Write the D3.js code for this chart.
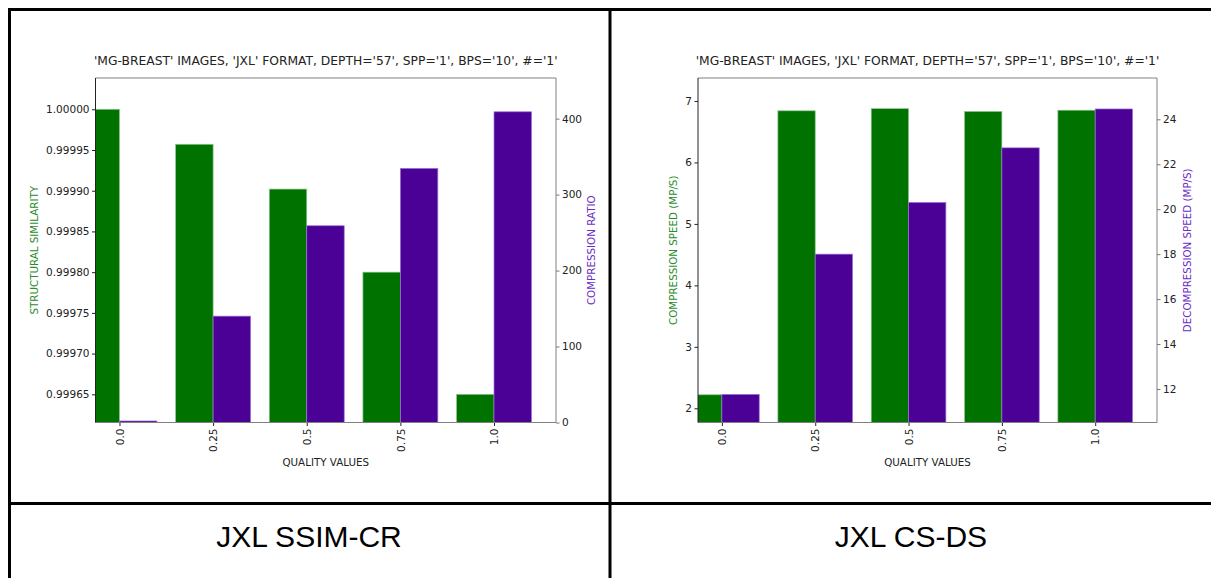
<!DOCTYPE html>
<html>
<head>
<meta charset="utf-8">
<script src="https://cdn.jsdelivr.net/npm/d3@7"></script>
<style>
  body { margin: 0; background: #fff; }
  svg { display: block; }
  .tick text { font-family: "DejaVu Sans", sans-serif; font-size: 10.5px; fill: #222; }
</style>
</head>
<body>
<div id="vis"></div>
<script>
// Data
const qualities = ['0.0', '0.25', '0.5', '0.75', '1.0'];
const ssim = [1.0, 0.999957, 0.999902, 0.999800, 0.999650];
const compressionRatio = [2, 140, 259, 334.5, 409];
const compressionSpeed = [2.22, 6.84, 6.875, 6.83, 6.85];
const decompressionSpeed = [11.76, 18.0, 20.3, 22.73, 24.46];

const ssimTicks = [0.99965, 0.9997, 0.99975, 0.9998, 0.99985, 0.9999, 0.99995, 1.0];
const ratioTicks = [0, 100, 200, 300, 400];
const csTicks = [2, 3, 4, 5, 6, 7];
const dsTicks = [12, 14, 16, 18, 20, 22, 24];

const chartTitle = "'MG-BREAST' IMAGES, 'JXL' FORMAT, DEPTH='57', SPP='1', BPS='10', #='1'";
const captions = ['JXL SSIM-CR', 'JXL CS-DS'];

const W = 1211, H = 578;
const GREEN = '#007200';
const PURPLE = '#4b0096';

const svg = d3.select('#vis')
    .append('svg')
    .attr('width', W)
    .attr('height', H);

// table borders
function tableLines() {
    const g = svg.append('g').attr('stroke', '#000').attr('stroke-width', 3);
    g.append('line').attr('x1', 8).attr('x2', W).attr('y1', 9.5).attr('y2', 9.5);
    g.append('line').attr('x1', 9.5).attr('x2', 9.5).attr('y1', 8).attr('y2', H);
    g.append('line').attr('x1', 610).attr('x2', 610).attr('y1', 8).attr('y2', H);
    g.append('line').attr('x1', 8).attr('x2', W).attr('y1', 503.5).attr('y2', 503.5);

    svg.selectAll('.caption')
        .data(captions)
        .join('text')
        .attr('class', 'caption')
        .attr('x', (d, i) => i === 0 ? 309 : 911)
        .attr('y', 547)
        .attr('text-anchor', 'middle')
        .style('font-family', '"Liberation Sans", Arial, sans-serif')
        .style('font-size', '30px')
        .style('fill', '#000')
        .text(d => d);
}

function drawChart(cfg) {
    const left = cfg.left, right = cfg.right, top = 78, bottom = 422.5;
    const id = cfg.id;
    const g = svg.append('g');

    const x = d3.scaleLinear().domain([-0.256, 4.662]).range([left, right]);
    const yL = d3.scaleLinear().domain(cfg.leftDomain).range([bottom, top]);
    const yR = d3.scaleLinear().domain(cfg.rightDomain).range([bottom, top]);

    g.append('clipPath').attr('id', id)
        .append('rect')
        .attr('x', left).attr('y', top)
        .attr('width', right - left).attr('height', bottom - top);

    const bars = g.append('g').attr('clip-path', `url(#${id})`);

    bars.selectAll('.barL')
        .data(cfg.leftValues)
        .join('rect')
        .attr('class', 'barL')
        .attr('x', (d, i) => x(i - 0.4))
        .attr('width', (d, i) => x(i) - x(i - 0.4))
        .attr('y', d => yL(d))
        .attr('height', d => bottom - yL(d))
        .attr('fill', GREEN)
        .attr('stroke', '#8fc48f')
        .attr('stroke-width', 0.7);

    bars.selectAll('.barR')
        .data(cfg.rightValues)
        .join('rect')
        .attr('class', 'barR')
        .attr('x', (d, i) => x(i))
        .attr('width', (d, i) => x(i + 0.4) - x(i))
        .attr('y', d => yR(d))
        .attr('height', d => bottom - yR(d))
        .attr('fill', PURPLE)
        .attr('stroke', '#9a72d2')
        .attr('stroke-width', 0.7);

    // axes
    const axL = g.append('g')
        .attr('transform', `translate(${left},0)`)
        .call(d3.axisLeft(yL).tickValues(cfg.leftTicks).tickFormat(cfg.leftFormat).tickSize(3.5).tickPadding(2.5));
    axL.select('.domain').remove();
    axL.selectAll('.tick line').attr('stroke', '#222');

    const axR = g.append('g')
        .attr('transform', `translate(${right},0)`)
        .call(d3.axisRight(yR).tickValues(cfg.rightTicks).tickFormat(cfg.rightFormat).tickSize(3.5).tickPadding(2.5));
    axR.select('.domain').remove();
    axR.selectAll('.tick line').attr('stroke', '#777');

    const axB = g.append('g')
        .attr('transform', `translate(0,${bottom})`)
        .call(d3.axisBottom(x).tickValues(d3.range(qualities.length)).tickFormat(i => qualities[i]).tickSize(3.5));
    axB.select('.domain').remove();
    axB.selectAll('.tick line').attr('stroke', '#222');
    axB.selectAll('.tick text')
        .attr('transform', 'rotate(-90)')
        .attr('text-anchor', 'end')
        .attr('x', -6)
        .attr('y', 0)
        .attr('dy', '0.35em');

    // spines
    g.append('line').attr('x1', left).attr('x2', right).attr('y1', top).attr('y2', top)
        .attr('stroke', '#808080').attr('stroke-width', 1);
    g.append('line').attr('x1', right).attr('x2', right).attr('y1', top).attr('y2', bottom)
        .attr('stroke', '#808080').attr('stroke-width', 1);
    g.append('line').attr('x1', left).attr('x2', right).attr('y1', bottom).attr('y2', bottom)
        .attr('stroke', '#808080').attr('stroke-width', 1);
    g.append('line').attr('x1', left).attr('x2', left).attr('y1', top).attr('y2', bottom)
        .attr('stroke', '#222').attr('stroke-width', 1);

    const labelFont = '"DejaVu Sans", sans-serif';
    const midY = (top + bottom) / 2;

    // title
    g.append('text')
        .attr('x', (left + right) / 2)
        .attr('y', 65)
        .attr('text-anchor', 'middle')
        .style('font-family', labelFont)
        .style('font-size', '12.3px')
        .style('fill', '#222')
        .text(chartTitle);

    g.append('text')
        .attr('x', (left + right) / 2)
        .attr('y', 465.5)
        .attr('text-anchor', 'middle')
        .style('font-family', labelFont)
        .style('font-size', '10.3px')
        .style('fill', '#222')
        .text('QUALITY VALUES');

    g.append('text')
        .attr('transform', `translate(${cfg.leftLabelX},${midY}) rotate(-90)`)
        .attr('text-anchor', 'middle')
        .attr('dy', '0.35em')
        .style('font-family', labelFont)
        .style('font-size', '10.3px')
        .style('fill', '#2a8c2a')
        .text(cfg.leftLabel);

    g.append('text')
        .attr('transform', `translate(${cfg.rightLabelX},${midY}) rotate(-90)`)
        .attr('text-anchor', 'middle')
        .attr('dy', '0.35em')
        .style('font-family', labelFont)
        .style('font-size', '10.3px')
        .style('fill', '#6a2cc4')
        .text(cfg.rightLabel);
}

tableLines();

drawChart({
    id: 'clipA',
    left: 95.5, right: 556,
    leftValues: ssim, rightValues: compressionRatio,
    leftDomain: [0.9996154, 1.0000384], rightDomain: [0, 453.5],
    leftTicks: ssimTicks, rightTicks: ratioTicks,
    leftFormat: d3.format('.5f'), rightFormat: d3.format('d'),
    leftLabel: 'STRUCTURAL SIMILARITY', rightLabel: 'COMPRESSION RATIO',
    leftLabelX: 34, rightLabelX: 591
});

drawChart({
    id: 'clipB',
    left: 698, right: 1157,
    leftValues: compressionSpeed, rightValues: decompressionSpeed,
    leftDomain: [1.769, 7.374], rightDomain: [10.509, 25.838],
    leftTicks: csTicks, rightTicks: dsTicks,
    leftFormat: d3.format('d'), rightFormat: d3.format('d'),
    leftLabel: 'COMPRESSION SPEED (MP/S)', rightLabel: 'DECOMPRESSION SPEED (MP/S)',
    leftLabelX: 673, rightLabelX: 1187
});
</script>
</body>
</html>
